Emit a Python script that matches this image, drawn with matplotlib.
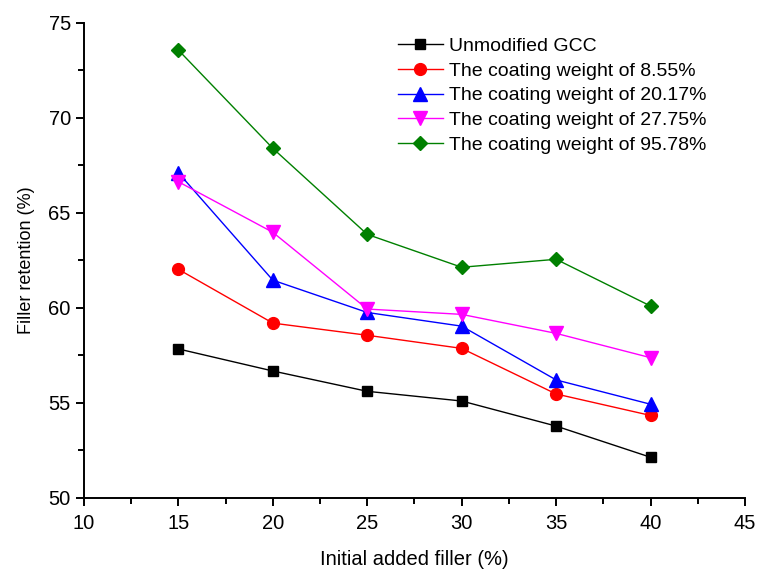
import matplotlib
matplotlib.use('Agg')
import matplotlib.pyplot as plt
from matplotlib.ticker import MultipleLocator

plt.rcParams['font.family'] = ['Liberation Sans', 'DejaVu Sans']

# data
filler = [15, 20, 25, 30, 35, 40]
unmodified = [57.83, 56.67, 55.6, 55.09, 53.77, 52.13]
cw_855 = [62.02, 59.19, 58.55, 57.86, 55.46, 54.33]
cw_2017 = [67.1, 61.45, 59.75, 59.03, 56.2, 54.92]
cw_2775 = [66.63, 63.97, 59.93, 59.65, 58.65, 57.37]
cw_9578 = [73.56, 68.39, 63.86, 62.13, 62.55, 60.09]

labels = ['Unmodified GCC', 'The coating weight of 8.55%', 'The coating weight of 20.17%',
          'The coating weight of 27.75%', 'The coating weight of 95.78%']

fig = plt.figure(figsize=(7.58, 5.69), dpi=100)
ax = fig.add_axes([0.1108, 0.1253, 0.872, 0.8347])

ax.plot(filler, unmodified, color='black', marker='s', markersize=7, lw=1, label=labels[0])
ax.plot(filler, cw_855, color='red', marker='o', markersize=8.5, lw=1, label=labels[1])
ax.plot(filler, cw_2017, color='blue', marker='^', markersize=9.5, lw=1, label=labels[2])
ax.plot(filler, cw_2775, color='magenta', marker='v', markersize=9.5, lw=1, label=labels[3])
ax.plot(filler, cw_9578, color='green', marker='D', markersize=7, lw=1, label=labels[4])

ax.set_xlim(10, 45)
ax.set_ylim(50, 75)
ax.xaxis.set_major_locator(MultipleLocator(5))
ax.xaxis.set_minor_locator(MultipleLocator(2.5))
ax.yaxis.set_major_locator(MultipleLocator(5))
ax.yaxis.set_minor_locator(MultipleLocator(2.5))
ax.spines['top'].set_visible(False)
ax.spines['right'].set_visible(False)
for s in ['left', 'bottom']:
    ax.spines[s].set_linewidth(1.4)
ax.tick_params(which='major', direction='out', length=6, width=1.4, labelsize=14.5)
ax.tick_params(axis='x', which='major', pad=6)
ax.tick_params(which='minor', direction='out', length=4, width=1.4)

ax.set_xlabel('Initial added filler (%)', fontsize=14.5, labelpad=12)
ax.set_ylabel('Filler retention (%)', fontsize=13, labelpad=10)

ax.legend(loc='upper left', bbox_to_anchor=(0.475, 0.969), frameon=False, fontsize=14,
          handlelength=2.3, labelspacing=0.36, handletextpad=0.3,
          borderpad=0, borderaxespad=0)

plt.savefig('out.png', dpi=100)
